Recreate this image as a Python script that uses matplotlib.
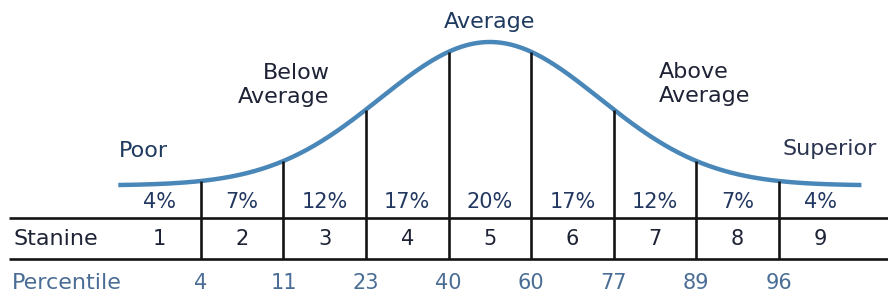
import numpy as np
import matplotlib
matplotlib.use('Agg')
import matplotlib.pyplot as plt

# stanine table
stanines = [1, 2, 3, 4, 5, 6, 7, 8, 9]
shares = ['4%', '7%', '12%', '17%', '20%', '17%', '12%', '7%', '4%']
percentiles = [4, 11, 23, 40, 60, 77, 89, 96]   # at the boundaries between stanines
bands = ['Poor', 'Below\nAverage', 'Average', 'Above\nAverage', 'Superior']

# bell curve: centre at stanine 5, spread in stanine units
mu, sd = 5.0, 1.33

fig = plt.figure(figsize=(8.88, 2.97), dpi=100)
ax = fig.add_axes([0, 0, 1, 1])
ax.set_xlim(-0.933, 9.822)
ax.set_ylim(297, 0)   # pixel-like rows, top down
ax.axis('off')

base, peak = 185.5, 42
def curve(x):
    return base - (base - peak) * np.exp(-(np.asarray(x) - mu) ** 2 / (2 * sd ** 2))

xs = np.linspace(0.5, 9.5, 400)
ax.plot(xs, curve(xs), color='#4a87b9', lw=3.2, solid_capstyle='butt')

bounds = np.array(stanines[:-1]) + 0.5
y_top_rule, y_bot_rule = 218, 259
ax.vlines(bounds, curve(bounds), y_bot_rule, color='#141414', lw=1.9)
ax.hlines([y_top_rule, y_bot_rule], -0.82, 9.9, color='#141414', lw=1.9)

txt = '#1d2235'
fs = 16
nfs = 15
for s, p in zip(stanines, shares):
    ax.text(s, 202, p, ha='center', va='center', fontsize=nfs, color='#233861')
    ax.text(s, 239, str(s), ha='center', va='center', fontsize=nfs, color=txt)
for b, p in zip(bounds, percentiles):
    ax.text(b, 283, str(p), ha='center', va='center', fontsize=nfs, color='#4a6d95')

ax.text(-0.77, 239, 'Stanine', ha='left', va='center', fontsize=fs, color=txt)
ax.text(-0.79, 283, 'Percentile', ha='left', va='center', fontsize=fs, color='#4a6d95')

ax.text(0.80, 151, bands[0], ha='center', va='center', fontsize=fs, color='#1f3a5f')
ax.text(3.06, 85, bands[1], ha='right', va='center', fontsize=fs, color=txt,
        linespacing=1.2)
ax.text(5.0, 22, bands[2], ha='center', va='center', fontsize=fs, color='#1f3a5f')
ax.text(7.05, 84, bands[3], ha='left', va='center', fontsize=fs, color=txt,
        linespacing=1.2)
ax.text(8.54, 149, bands[4], ha='left', va='center', fontsize=fs, color='#2b3550')

fig.savefig('out.png', dpi=100)
